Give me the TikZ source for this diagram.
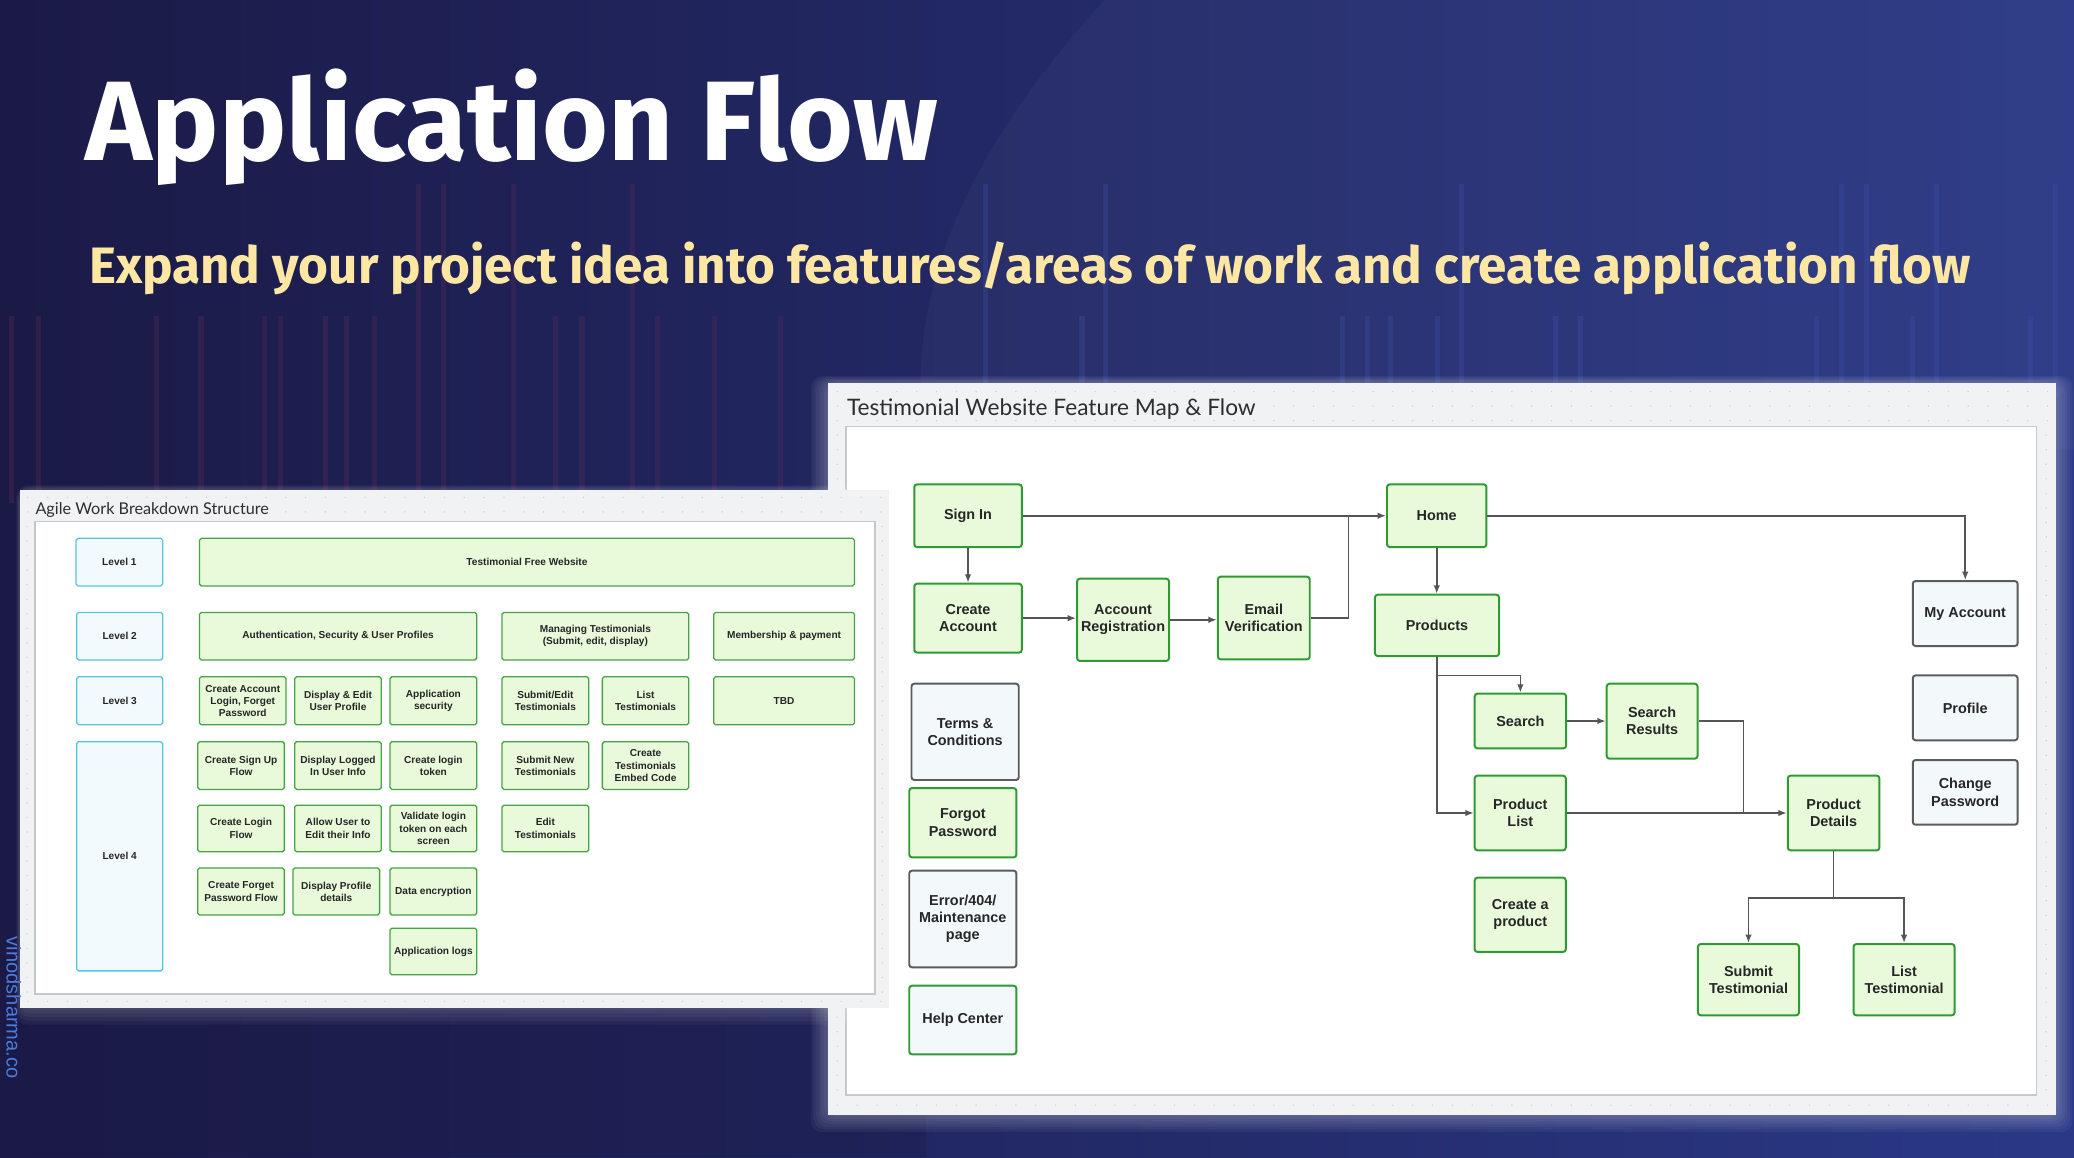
\documentclass[tikz,border=0pt]{standalone}
\usepackage{fontspec}
\setmainfont{Liberation Sans}
\newfontfamily\headfont{Fira Sans}
\newfontfamily\panelfont{Lato}
\usetikzlibrary{arrows.meta,calc}

\definecolor{bgleft}{HTML}{1B1A46}
\definecolor{bgmid}{HTML}{222765}
\definecolor{bgright}{HTML}{2A3886}
\definecolor{barred}{HTML}{5A2A55}
\definecolor{barblue}{HTML}{3C50A8}
\definecolor{subyellow}{HTML}{FDE7A2}
\definecolor{panelgray}{HTML}{F1F2F4}
\definecolor{griddot}{HTML}{CDD0D4}
\definecolor{frameline}{HTML}{C6C8CB}
\definecolor{greenfill}{HTML}{E9FADB}
\definecolor{wbsgreen}{HTML}{46A346}
\definecolor{flowgreen}{HTML}{2E9A31}
\definecolor{lvlfill}{HTML}{F3FAFD}
\definecolor{lvlcyan}{HTML}{55C6E0}
\definecolor{grayfill}{HTML}{F3F8FB}
\definecolor{graydark}{HTML}{5A5C5E}
\definecolor{connector}{HTML}{555555}
\definecolor{textdark}{HTML}{262626}
\definecolor{titlegray}{HTML}{2E2E2E}
\definecolor{watermark}{HTML}{4C7BDB}

\newcommand\wbsfont{\bfseries\fontsize{4.35}{5.27}\selectfont}
\newcommand\flowfont{\bfseries\fontsize{6.2}{7.43}\selectfont}

% box given by its corners (x1,y1) and (x2,y2)
\newcommand\boxat[7]{%
  \node[#2, minimum width={(#5-#3)*0.02cm}, minimum height={(#6-#4)*0.02cm}]
    (#1) at ({(#3+#5)/2},{(#4+#6)/2}) {#7};}

\tikzset{
  wbs/.style={draw=wbsgreen, fill=greenfill, line width=0.55pt, rounded corners=0.8pt,
    inner sep=0pt, align=center, font=\wbsfont, text=textdark},
  lvl/.style={wbs, draw=lvlcyan, fill=lvlfill},
  flow/.style={draw=flowgreen, fill=greenfill, line width=0.85pt, rounded corners=1.2pt,
    inner sep=0pt, align=center, font=\flowfont, text=textdark},
  plainbox/.style={flow, draw=graydark, fill=grayfill},
  helpbox/.style={flow, fill=grayfill},
  conn/.style={draw=connector, line width=0.7pt},
  arr/.style={conn, -{Latex[length=3.6pt,width=2.8pt]}},
  bar/.style={line width=2.2pt, opacity=0.33},
  glow/.style={white, opacity=0.045, rounded corners=5pt},
  dot/.style={griddot},
}

\begin{document}
\begin{tikzpicture}[x=0.02cm,y=-0.02cm]
\useasboundingbox (0,0) rectangle (1568,875);

% ---- background ----
\shade[left color=bgleft, middle color=bgmid, right color=bgright] (0,0) rectangle (1568,875);
\fill[white, opacity=0.03] (835,0) .. controls (735,110) and (680,220) .. (700,340)
  -- (1568,340) -- (1568,0) -- cycle;
\fill[bgleft, opacity=0.35] (0,760) rectangle (700,875);

% chart bars
\foreach \x in {316.6,335.2,388.2,478.4}
  \draw[bar, barred] (\x,139) -- (\x,380);
\foreach \x in {9,29,118,152,200,212,246,262,283,420,440,497,540,590}
  \draw[bar, barred] (\x,239) -- (\x,380);
\foreach \x in {745,836,1105,1392,1411,1464,1554}
  \draw[bar, barblue] (\x,139) -- (\x,300);
\foreach \x in {818,1015,1034,1051,1087,1176,1195,1373,1446,1535}
  \draw[bar, barblue] (\x,239) -- (\x,300);

% ---- headings ----
\node[anchor=base west, inner sep=0pt, text=white] (title) at (64,121)
  {\resizebox{12.9cm}{!}{\headfont\bfseries Application Flow}};
\node[anchor=base west, inner sep=0pt, text=subyellow] (subtitle) at (67,214.2)
  {\resizebox{28.45cm}{!}{\headfont\bfseries Expand your project idea into features/areas of work and create application flow}};

% ---- glow behind the feature map panel ----
\foreach \g in {1,3,5,7,9,11,13}
  \fill[glow] (626-\g,289.6-0.4*\g) rectangle (1554+\g,843+\g);

% ---- feature map panel ----
\fill[panelgray] (626,289.6) rectangle (1554,843);
\foreach \x in {633,648,...,1550} {
  \foreach \y in {296,307,318} \fill[dot] (\x,\y) circle[radius=0.6];
  \fill[dot] (\x,835.5) circle[radius=0.6];
}
\foreach \y in {329,340,...,830} {
  \fill[dot] (633,\y) circle[radius=0.6];
  \fill[dot] (1547,\y) circle[radius=0.6];
}
\draw[frameline, fill=white, line width=0.6pt] (639.5,322.6) rectangle (1539.7,827.9);
\node[anchor=base west, inner sep=0pt, text=titlegray] (maptitle) at (640,314.5)
  {\resizebox{6.18cm}{!}{\panelfont Testimonial Website Feature Map \& Flow}};

\boxat{signin}{flow}{691.2}{366.2}{772.5}{413.6}{Sign In}
\boxat{create}{flow}{691.2}{441.3}{772.5}{493.4}{Create\\Account}
\boxat{accreg}{flow}{814.3}{437.5}{883.8}{499.7}{Account\\Registration}
\boxat{emailv}{flow}{920.7}{436}{990.2}{498.5}{Email\\Verification}
\boxat{home}{flow}{1048.6}{366.2}{1123.8}{413.6}{Home}
\boxat{products}{flow}{1039.5}{449.6}{1133.3}{496}{Products}
\boxat{myacc}{plainbox}{1446.1}{439.3}{1525.4}{488.4}{My Account}
\boxat{profile}{plainbox}{1446.1}{510.6}{1525.4}{559.7}{Profile}
\boxat{chpw}{plainbox}{1446.1}{574.6}{1525.4}{623.5}{Change\\Password}
\boxat{search}{flow}{1114.9}{524.4}{1184}{565.8}{Search}
\boxat{sres}{flow}{1214.7}{516.9}{1283.4}{573.6}{Search\\Results}
\boxat{plist}{flow}{1114.9}{586.4}{1183.8}{642.9}{Product\\List}
\boxat{cprod}{flow}{1114.9}{663.5}{1183.8}{719.7}{Create a\\product}
\boxat{pdet}{flow}{1351.6}{586.4}{1420.9}{642.9}{Product\\Details}
\boxat{subt}{flow}{1283.7}{713.7}{1360.1}{767.6}{Submit\\Testimonial}
\boxat{listt}{flow}{1401.3}{713.7}{1477.7}{767.6}{List\\Testimonial}
\boxat{terms}{plainbox}{689.1}{516.9}{770.2}{589.7}{Terms \&\\Conditions}
\boxat{forgot}{flow}{687.4}{595.8}{768.4}{648.2}{Forgot\\Password}
\boxat{errpage}{plainbox}{687.4}{658.2}{768.4}{731.3}{Error/404/\\Maintenance\\page}
\boxat{help}{helpbox}{687.4}{745.2}{768.4}{797.1}{Help Center}

\coordinate (joinhome) at (1019.6,389.9);
\coordinate (joinlist) at (1318,614.65);

\draw[arr] (signin.east) -- (home.west);
\draw[conn] (emailv.east) -| (joinhome);
\draw[arr] (signin.south) -- (create.north);
\draw[arr] (create.east) -- (create.east -| accreg.west);
\draw[arr] (accreg.east) -- (accreg.east -| emailv.west);
\draw[arr] (home.south) -- (home.south |- products.north);
\draw[arr] (home.east) -| (myacc.north);
\draw[arr] (products.south) -- ++(0,14) -| (search.north);
\draw[arr] (products.south) |- (plist.west);
\draw[arr] (search.east) -- (search.east -| sres.west);
\draw[conn] (sres.east) -| (joinlist);
\draw[arr] (plist.east) -- (plist.east -| pdet.west);
\draw[arr] (pdet.south) -- ++(0,35.3) -| (subt.north);
\draw[arr] (pdet.south) -- ++(0,35.3) -| (listt.north);

% ---- work breakdown panel ----
\foreach \g in {1,3,5,7,9}
  \fill[glow] (15-0.3*\g,370.5-0.4*\g) rectangle (672+\g,762+1.4*\g);
\fill[panelgray] (15,370.5) rectangle (672,762);
\foreach \x in {21,36,...,670} {
  \foreach \y in {376,387} \fill[dot] (\x,\y) circle[radius=0.6];
  \fill[dot] (\x,757) circle[radius=0.6];
}
\foreach \y in {398,409,...,750} {
  \fill[dot] (20.5,\y) circle[radius=0.6];
  \fill[dot] (667,\y) circle[radius=0.6];
}
\draw[frameline, fill=white, line width=0.6pt] (26.5,394.4) rectangle (661.5,751.5);
\node[anchor=base west, inner sep=0pt, text=titlegray] (wbstitle) at (26.5,388.9)
  {\resizebox{3.53cm}{!}{\panelfont Agile Work Breakdown Structure}};

\boxat{lv1}{lvl}{57.5}{407}{123}{443}{Level 1}
\boxat{lv2}{lvl}{58}{463}{123}{499}{Level 2}
\boxat{lv3}{lvl}{58}{511.6}{123}{548}{Level 3}
\boxat{lv4}{lvl}{58}{560.7}{123}{734}{Level 4}

\boxat{site}{wbs}{150.8}{407}{646}{443}{Testimonial Free Website}
\boxat{auth}{wbs}{150.8}{463}{360.4}{499}{Authentication, Security \& User Profiles}
\boxat{mng}{wbs}{379.5}{463}{520.7}{499}{Managing Testimonials\\(Submit, edit, display)}
\boxat{member}{wbs}{539.6}{463}{646}{499}{Membership \& payment}

\boxat{caccount}{wbs}{150.8}{511.6}{216.3}{548}{Create Account\\Login, Forget\\Password}
\boxat{dedit}{wbs}{222.8}{511.6}{288.3}{548}{Display \& Edit\\User Profile}
\boxat{appsec}{wbs}{294.9}{511.6}{360.4}{548}{Application\\security}
\boxat{subedit}{wbs}{379.5}{511.6}{445.1}{548}{Submit/Edit\\Testimonials}
\boxat{listtest}{wbs}{455.4}{511.6}{520.7}{548}{List\\Testimonials}
\boxat{tbd}{wbs}{539.6}{511.6}{646}{548}{TBD}

\boxat{signup}{wbs}{149.5}{560.7}{215}{596.8}{Create Sign Up\\Flow}
\boxat{dlogged}{wbs}{222.8}{560.7}{288.3}{596.8}{Display Logged\\In User Info}
\boxat{ctoken}{wbs}{294.9}{560.7}{360.4}{596.8}{Create login\\token}
\boxat{subnew}{wbs}{379.5}{560.7}{445.1}{596.8}{Submit New\\Testimonials}
\boxat{embed}{wbs}{455.4}{560.7}{520.7}{596.8}{Create\\Testimonials\\Embed Code}

\boxat{loginflow}{wbs}{149.5}{608.7}{215}{644}{Create Login\\Flow}
\boxat{allowedit}{wbs}{222.8}{608.7}{288.3}{644}{Allow User to\\Edit their Info}
\boxat{validate}{wbs}{294.9}{608.7}{360.4}{644}{Validate login\\token on each\\screen}
\boxat{edittest}{wbs}{379.5}{608.7}{445.1}{644}{Edit\\Testimonials}

\boxat{forgetflow}{wbs}{149.5}{656.2}{215}{691.8}{Create Forget\\Password Flow}
\boxat{dprofile}{wbs}{221.5}{656.2}{287}{691.8}{Display Profile\\details}
\boxat{encrypt}{wbs}{294.9}{656.2}{360.4}{691.8}{Data encryption}
\boxat{applogs}{wbs}{294.9}{701.7}{360.4}{737}{Application logs}

% ---- side mark ----
\node[rotate=-90, anchor=base west, inner sep=0pt, text=watermark] (mark) at (5,708)
  {\resizebox{2.14cm}{!}{vinodsharma.co}};

\end{tikzpicture}
\end{document}
